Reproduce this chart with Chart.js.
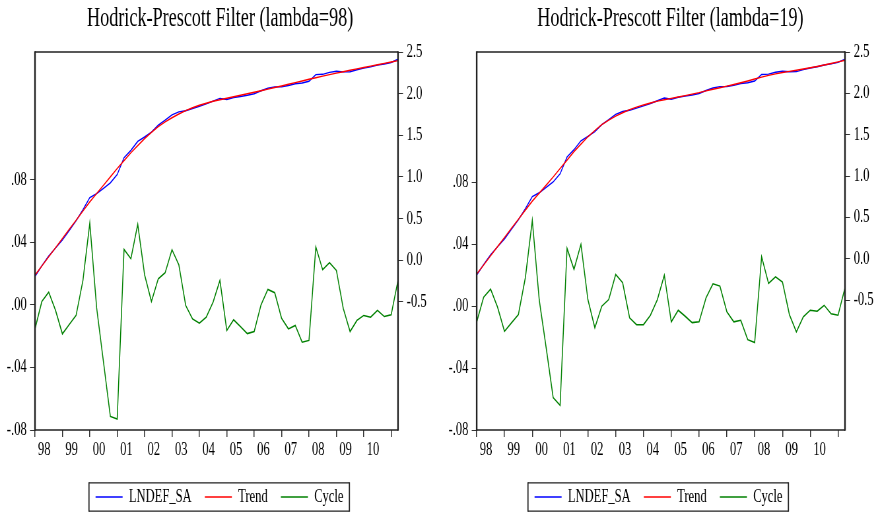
<!DOCTYPE html>
<html>
<head>
<meta charset="utf-8">
<script src="https://cdn.jsdelivr.net/npm/chart.js@4.4.1/dist/chart.umd.min.js"></script>
<style>
html,body{margin:0;padding:0;background:#fff;}
#wrap{position:relative;width:878px;height:514px;overflow:hidden;background:#fff;}
canvas{position:absolute;top:0;}
#c1{left:0;}
#c2{left:439px;}
</style>
</head>
<body>
<div id="wrap">
<canvas id="c1" width="665" height="514" style="width:439px;height:514px;"></canvas>
<canvas id="c2" width="665" height="514" style="width:439px;height:514px;"></canvas>
</div>
<script>
// ---- data ----
const quarters = ['1998Q1','1998Q2','1998Q3','1998Q4','1999Q1','1999Q2','1999Q3','1999Q4',
  '2000Q1','2000Q2','2000Q3','2000Q4','2001Q1','2001Q2','2001Q3','2001Q4',
  '2002Q1','2002Q2','2002Q3','2002Q4','2003Q1','2003Q2','2003Q3','2003Q4',
  '2004Q1','2004Q2','2004Q3','2004Q4','2005Q1','2005Q2','2005Q3','2005Q4',
  '2006Q1','2006Q2','2006Q3','2006Q4','2007Q1','2007Q2','2007Q3','2007Q4',
  '2008Q1','2008Q2','2008Q3','2008Q4','2009Q1','2009Q2','2009Q3','2009Q4',
  '2010Q1','2010Q2','2010Q3','2010Q4','2011Q1','2011Q2'];
const yearLabels = ['98','99','00','01','02','03','04','05','06','07','08','09','10'];
const cycleTicks = [-0.08,-0.04,0,0.04,0.08];
const levelTicks = [-0.5,0,0.5,1,1.5,2,2.5];

const lndefSA = [-0.195,-0.068,0.048,0.146,0.241,0.357,0.473,0.606,0.752,0.798,
  0.863,0.929,1.027,1.230,1.319,1.426,1.479,1.537,1.622,1.681,
  1.745,1.781,1.795,1.821,1.848,1.877,1.910,1.943,1.929,1.953,
  1.966,1.980,1.999,2.035,2.064,2.081,2.083,2.097,2.119,2.128,
  2.149,2.228,2.232,2.255,2.268,2.261,2.263,2.287,2.307,2.322,
  2.343,2.356,2.374,2.413];

const trend98 = [-0.18,-0.07,0.04,0.15,0.26,0.37,0.48,0.59,0.70,0.80,
  0.90,1.00,1.10,1.195,1.29,1.375,1.46,1.535,1.605,1.66,
  1.71,1.755,1.795,1.83,1.86,1.885,1.908,1.927,1.945,1.963,
  1.98,1.998,2.016,2.035,2.054,2.073,2.092,2.112,2.132,2.152,
  2.172,2.191,2.21,2.228,2.246,2.263,2.28,2.297,2.314,2.33,
  2.347,2.363,2.38,2.397];

const cycle98 = [-0.0154,0.0021,0.0081,-0.0036,-0.0186,-0.0126,-0.0068,0.0156,0.0522,-0.0020,
  -0.0367,-0.0713,-0.0730,0.0354,0.0294,0.0514,0.0192,0.0021,0.0166,0.0205,
  0.0352,0.0256,-0.0004,-0.0090,-0.0118,-0.0079,0.0017,0.0156,-0.0164,-0.0096,
  -0.0139,-0.0184,-0.0171,0.0000,0.0098,0.0077,-0.0086,-0.0154,-0.0132,-0.0239,
  -0.0228,0.0369,0.0224,0.0269,0.0220,-0.0022,-0.0171,-0.0100,-0.0068,-0.0079,
  -0.0036,-0.0075,-0.0064,0.0156];

const trend19 = [-0.185,-0.074,0.037,0.147,0.257,0.368,0.478,0.588,0.697,0.794,
  0.890,0.988,1.091,1.193,1.295,1.386,1.475,1.551,1.622,1.677,
  1.725,1.766,1.803,1.833,1.860,1.883,1.906,1.923,1.939,1.956,
  1.973,1.991,2.009,2.030,2.050,2.068,2.087,2.107,2.128,2.150,
  2.173,2.196,2.217,2.236,2.252,2.266,2.280,2.294,2.310,2.325,
  2.342,2.361,2.380,2.401];

const cycle19 = [-0.0101,0.0058,0.0110,-0.0006,-0.0162,-0.0108,-0.0054,0.0184,0.0555,0.0040,
  -0.0270,-0.0590,-0.0641,0.0374,0.0238,0.0400,0.0043,-0.0140,0.0000,0.0043,
  0.0205,0.0152,-0.0075,-0.0119,-0.0119,-0.0058,0.0043,0.0201,-0.0101,-0.0026,
  -0.0065,-0.0106,-0.0101,0.0054,0.0145,0.0130,-0.0036,-0.0101,-0.0091,-0.0216,
  -0.0235,0.0320,0.0147,0.0190,0.0156,-0.0054,-0.0166,-0.0069,-0.0026,-0.0032,
  0.0006,-0.0049,-0.0058,0.0120];

// ---- rendering ----
const FONT = "'Liberation Serif', 'Times New Roman', serif";

function makeFramePlugin(titleShift) {
  return {
    id: 'frame',
    afterLayout(chart) {
      const tb = chart.titleBlock;
      if (tb && titleShift) { tb.left += titleShift; tb.right += titleShift; }
    },
    afterDatasetsDraw(chart) {
      const a = chart.chartArea, c = chart.ctx;
      c.save();
      c.strokeStyle = '#222';
      c.lineWidth = 1.4;
      c.beginPath();
      c.moveTo(a.left, a.top); c.lineTo(a.right, a.top);
      c.moveTo(a.left, a.bottom); c.lineTo(a.right, a.bottom);
      c.stroke();
      c.lineWidth = 2.4;
      c.beginPath();
      c.moveTo(a.left, a.top - 0.7); c.lineTo(a.left, a.bottom + 0.7);
      c.moveTo(a.right, a.top - 0.7); c.lineTo(a.right, a.bottom + 0.7);
      c.stroke();
      c.restore();
    },
    afterDraw(chart) {
      const lg = chart.legend;
      if (!lg || !lg.legendHitBoxes || !lg.legendHitBoxes.length) return;
      let l = Infinity, r = -Infinity, t = Infinity;
      lg.legendHitBoxes.forEach(h => {
        l = Math.min(l, h.left); r = Math.max(r, h.left + h.width); t = Math.min(t, h.top);
      });
      const cy = t + lg.legendHitBoxes[0].height / 2;
      const c = chart.ctx;
      c.save();
      c.strokeStyle = '#222';
      c.lineWidth = 1.2;
      c.beginPath();
      c.moveTo(l - 10, cy - 14.2); c.lineTo(r + 9, cy - 14.2);
      c.moveTo(l - 10, cy + 14.2); c.lineTo(r + 9, cy + 14.2);
      c.stroke();
      c.lineWidth = 1.8;
      c.beginPath();
      c.moveTo(l - 10, cy - 14.8); c.lineTo(l - 10, cy + 14.8);
      c.moveTo(r + 9, cy - 14.8); c.lineTo(r + 9, cy + 14.8);
      c.stroke();
      c.restore();
    }
  };
}

function fmtCycle(v) {
  const s = Math.abs(v).toFixed(2).replace(/^0/, '');
  return (v < -1e-9 ? '-' : '') + s;
}

function buildChart(id, titleText, trend, cycle, cfg) {
  return new Chart(document.getElementById(id), {
    type: 'line',
    data: {
      labels: quarters,
      datasets: [
        {label: 'LNDEF_SA', data: lndefSA, yAxisID: 'yLevel', borderColor: '#0000ff', backgroundColor: '#0000ff',
         borderWidth: 1.4, pointRadius: 0, tension: 0, order: 2},
        {label: 'Trend', data: trend, yAxisID: 'yLevel', borderColor: '#ff0000', backgroundColor: '#ff0000',
         borderWidth: 1.4, pointRadius: 0, tension: 0, order: 1},
        {label: 'Cycle', data: cycle, yAxisID: 'yCycle', borderColor: '#008000', backgroundColor: '#008000',
         borderWidth: 1.5, pointRadius: 0, tension: 0, order: 3}
      ]
    },
    options: {
      responsive: false,
      animation: false,
      devicePixelRatio: 1,
      events: [],
      layout: {padding: {top: 0, left: 0, right: 0, bottom: -2.5}},
      plugins: {
        tooltip: {enabled: false},
        title: {
          display: true, text: titleText, color: '#000',
          font: {family: FONT, size: 27.5, weight: 'normal'},
          padding: {top: 2, bottom: 17}
        },
        legend: {
          display: true, position: 'bottom',
          labels: {
            font: {family: FONT, size: 19}, color: '#000',
            usePointStyle: true, pointStyle: 'line', pointStyleWidth: 41,
            padding: 20,
            sort: (a, b) => a.datasetIndex - b.datasetIndex
          }
        }
      },
      scales: {
        x: {
          type: 'category', position: 'bottom', offset: false,
          afterFit: s => { s.height = cfg.xH; },
          border: {display: false},
          grid: {
            drawOnChartArea: false, drawTicks: true, tickLength: 7, lineWidth: 1.5,
            color: ctx => (ctx.index % 4 === 0 ? '#333' : 'rgba(0,0,0,0)'),
            tickColor: ctx => (ctx.index % 4 === 0 ? '#333' : 'rgba(0,0,0,0)')
          },
          ticks: {
            autoSkip: false, maxRotation: 0, minRotation: 0,
            labelOffset: 14.1, padding: 2, color: '#000',
            font: {family: FONT, size: 19},
            callback: (v, i) => (i % 4 === 0 ? (yearLabels[i / 4] || '') : '')
          }
        },
        yCycle: {
          type: 'linear', position: 'left', min: -0.08, max: cfg.cMax,
          afterBuildTicks: s => { s.ticks = cycleTicks.map(v => ({value: v})); },
          afterFit: s => { s.width = cfg.leftW; },
          border: {display: false},
          grid: {drawOnChartArea: false, drawTicks: true, tickLength: 7.6, lineWidth: 1, color: '#333'},
          ticks: {padding: 5, color: '#000', font: {family: FONT, size: 19}, callback: v => fmtCycle(v)}
        },
        yLevel: {
          type: 'linear', position: 'right', min: cfg.lMin, max: 2.5,
          afterBuildTicks: s => { s.ticks = levelTicks.map(v => ({value: v})); },
          afterFit: s => { s.width = cfg.rightW; },
          border: {display: false},
          grid: {drawOnChartArea: false, drawTicks: true, tickLength: 7.6, lineWidth: 1, color: '#333'},
          ticks: {padding: 5.6, color: '#000', font: {family: FONT, size: 19}, callback: v => v.toFixed(1)}
        }
      }
    },
    plugins: [makeFramePlugin(cfg.titleShift)]
  });
}

buildChart('c1', 'Hodrick-Prescott Filter (lambda=98)', trend98, cycle98,
  {leftW: 53, rightW: 62.1, xH: 37.5, cMax: 0.1615, lMin: -2.04, titleShift: 1});
buildChart('c2', 'Hodrick-Prescott Filter (lambda=19)', trend19, cycle19,
  {leftW: 57.1, rightW: 50, xH: 37.5, cMax: 0.1643, lMin: -2.07, titleShift: 18});
</script>
</body>
</html>
